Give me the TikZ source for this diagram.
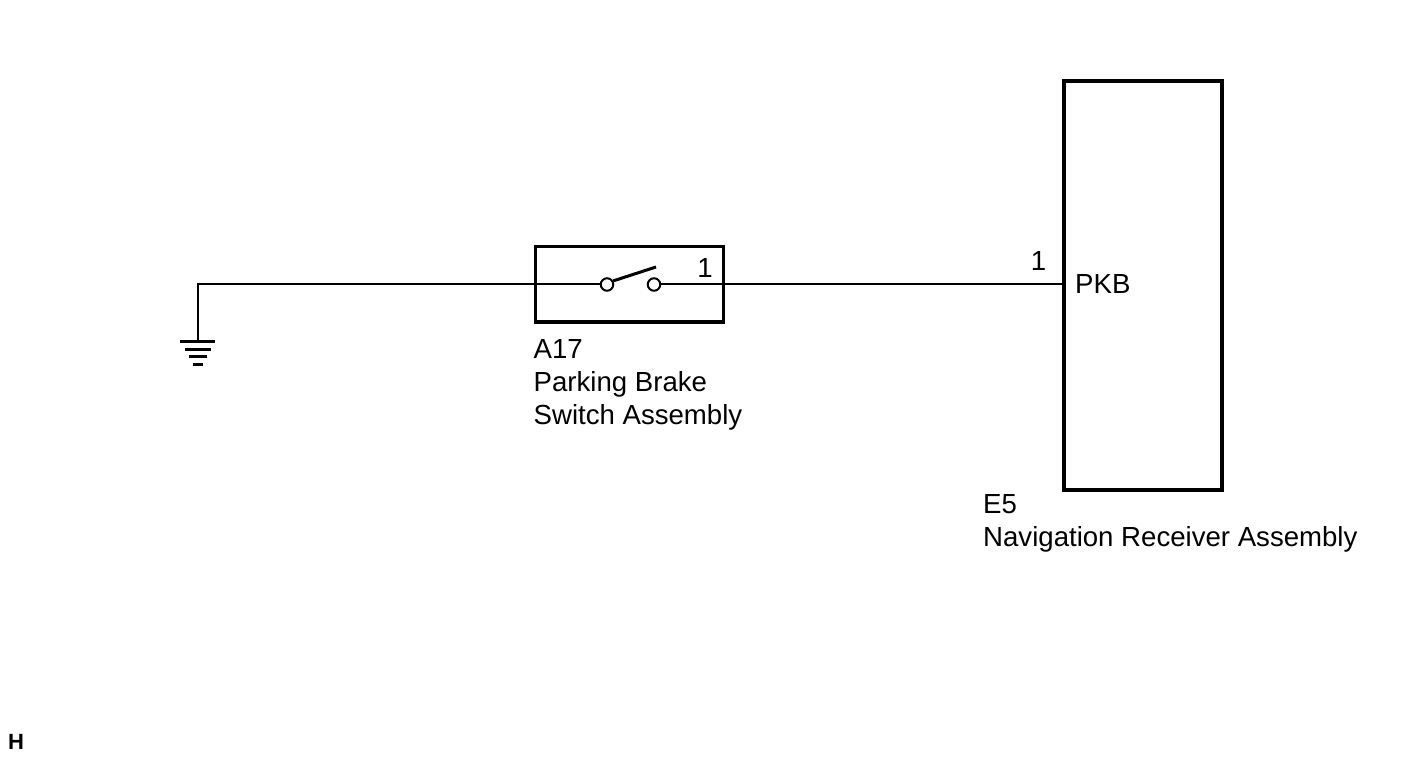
\documentclass[tikz,border=0pt]{standalone}
\usepackage{fontspec}
\setmainfont{Liberation Sans}

\begin{document}
\begin{tikzpicture}[x=1pt, y=-1pt,
    wire/.style={line width=2pt},
    part/.style={draw, line width=3.2pt, inner sep=0pt},
    contact/.style={circle, draw, fill=white, line width=2pt, minimum size=12.5pt, inner sep=0pt},
    label/.style={font=\fontsize{27.6}{33}\selectfont, inner sep=0pt, align=left}]
        \useasboundingbox (0,0) rectangle (1424,759);
        % parts
        \node (sw) [part, minimum width=188pt, minimum height=75.5pt] at (629.5,284.25) {};
        \node (nav) [part, minimum width=158pt, minimum height=409pt] at (1143,285.5) {};
        % switch
        \node (c1) [contact] at (607,284.5) {};
        \node (c2) [contact] at (654,284.5) {};
        \coordinate (blade) at (656,267);
        \coordinate (gnd) at (197.5,341.7);
        % wires
        \draw [wire] (gnd) |- (c1.west);
        \draw [wire] (c2.east) -- (c2.east -| nav.west);
        \draw [line width=3pt] (c1.30) -- (blade);
        % ground
        \foreach \y/\w in {0/17.5, 7.5/13, 15/9, 22.5/5}
            \draw [line width=2.6pt] ([shift={(-\w,\y)}]gnd) -- ++(2*\w,0);
        % pins and names
        \node (p1) [label, anchor=base east] at (713,277.3) {1};
        \node (p2) [label, anchor=base east] at (1046.5,271) {1};
        \node (pkb) [label, anchor=base west] at (1075,293.5) {PKB};
        \node (swname) [label, anchor=north west] at (533.5,339.5) {A17\\Parking Brake\\Switch Assembly};
        \node (navname) [label, anchor=north west] at (983,494) {E5\\Navigation Receiver Assembly};
        \node (corner) [font=\bfseries\fontsize{22}{26}\selectfont, inner sep=0pt, anchor=base west] at (8,749.3) {H};
    \end{tikzpicture}
\end{document}
